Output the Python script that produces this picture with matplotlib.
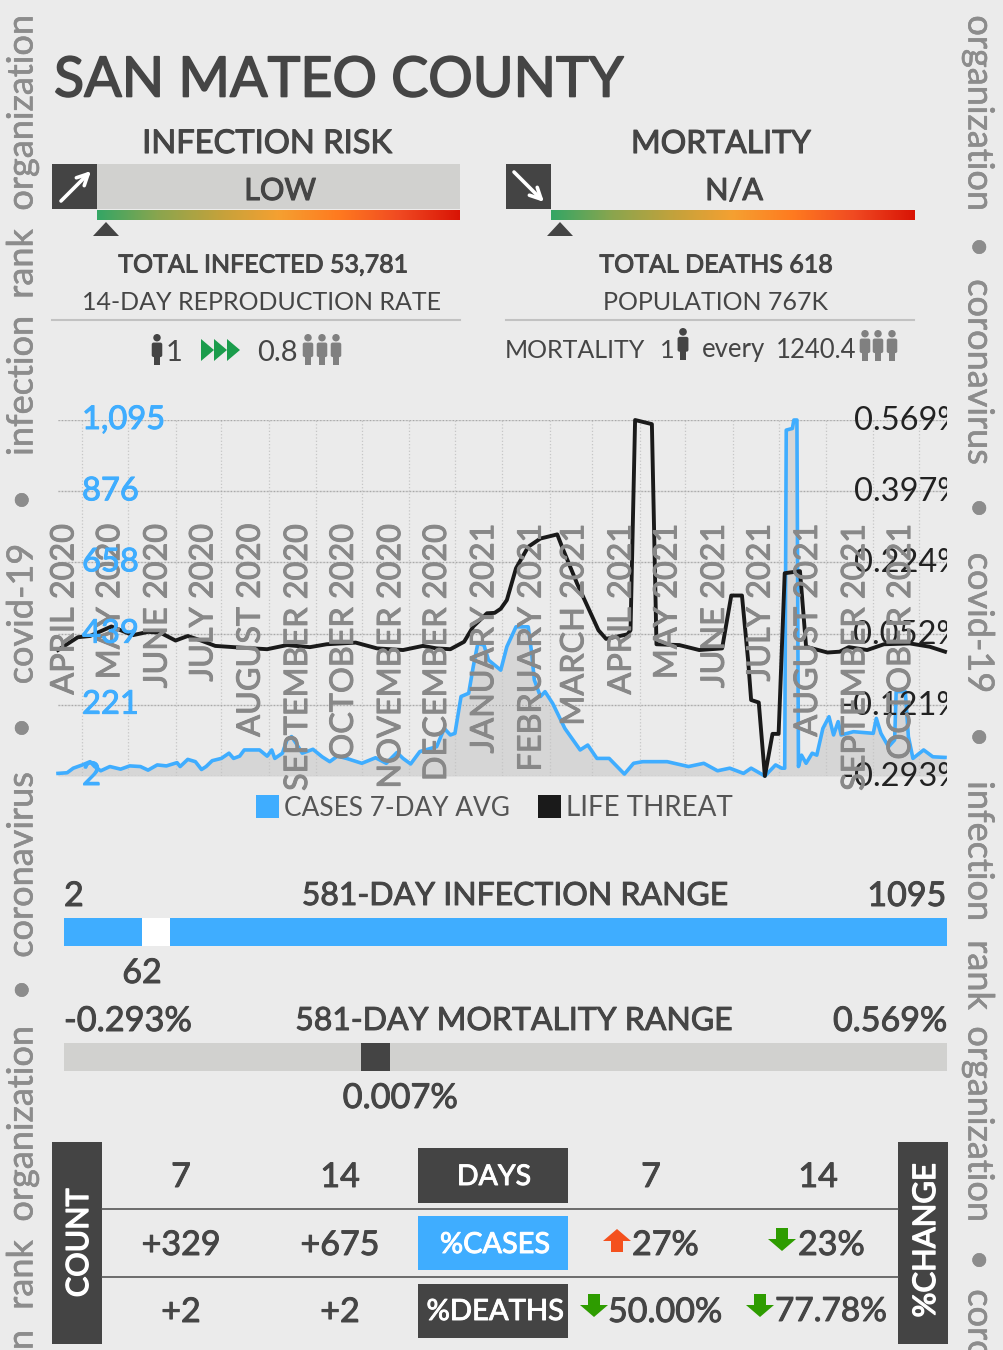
import matplotlib
matplotlib.use('Agg')
import matplotlib.pyplot as plt
import matplotlib.patheffects as pe
from matplotlib.colors import LinearSegmentedColormap
from matplotlib.patches import Circle, FancyBboxPatch, Polygon, Rectangle
from matplotlib.transforms import Affine2D, Bbox
import numpy as np

plt.rcParams['font.family'] = ['Lato', 'DejaVu Sans']

BG = '#ebebeb'
DARK = '#444444'
TEXT = '#454545'
BLUE = '#3fadff'
PANEL = '#d1d1cf'
SIDE = '#8c8c8c'

case_days = [0, 6, 10, 16, 21, 24, 28, 34, 41, 47, 54, 59, 65, 71, 78, 80, 85, 90, 94, 97,
             101, 107, 112, 115, 119, 122, 132, 137, 140, 142, 147, 150, 153, 156, 160, 167,
             173, 178, 183, 189, 199, 208, 215, 222, 226, 231, 237, 248, 253, 257, 260, 264,
             269, 272, 275, 279, 282, 290, 294, 300, 308, 310, 312, 316, 319, 324, 332, 342,
             347, 353, 361, 371, 377, 383, 399, 413, 423, 432, 440, 449, 454, 463, 470, 474,
             476, 477, 481, 482, 484, 485, 487, 490, 494, 497, 501, 505, 508, 511, 513, 521,
             534, 536, 539, 544, 548, 549, 555, 557, 560, 567, 573, 581]
case_values = [10, 12, 26, 36, 46, 31, 18, 31, 23, 33, 31, 20, 36, 33, 43, 31, 53, 46, 22, 31,
               49, 56, 72, 56, 63, 82, 82, 63, 82, 56, 72, 113, 123, 102, 72, 84,
               61, 46, 63, 56, 41, 58, 41, 74, 56, 39, 77, 92, 148, 128, 133, 246,
               256, 338, 409, 404, 358, 327, 399, 460, 460, 389, 297, 246, 261, 225, 148, 82,
               97, 56, 56, 8, 41, 46, 46, 31, 41, 18, 26, 10, 26, 2, 36, 26,
               26, 1064, 1069, 1095, 1095, 31, 66, 41, 72, 66, 148, 184, 128, 169, 128, 138,
               133, 179, 133, 92, 113, 261, 261, 123, 56, 82, 61, 59]

threat_days = [0, 13, 21, 35, 49, 59, 67, 77, 85, 93, 103, 119, 137, 150, 165, 176, 195, 209,
               226, 239, 248, 257, 266, 272, 281, 286, 290, 294, 300, 308, 316, 327, 331, 340,
               354, 359, 373, 375, 378, 389, 392, 407, 420, 435, 441, 448, 452, 454, 459, 463,
               468, 472, 476, 486, 490, 504, 512, 518, 530, 541, 558, 571, 581]
threat_values = [0.012, 0.043, 0.046, 0.069, 0.048, 0.056, 0.054, 0.035, 0.046, 0.036, 0.022,
                 0.018, 0.014, 0.024, 0.019, 0.026, 0.030, 0.016, 0.012, 0.022, 0.016, 0.014,
                 0.032, 0.069, 0.101, 0.102, 0.112, 0.133, 0.210, 0.262, 0.282, 0.292, 0.254,
                 0.173, 0.060, 0.039, 0.050, 0.060, 0.569, 0.559, 0.026, 0.024, 0.012, 0.016,
                 0.144, 0.144, -0.012, -0.109, -0.115, -0.293, -0.191, -0.191, 0.198, 0.203,
                 0.020, 0.006, 0.008, 0.019, 0.012, 0.026, 0.028, 0.020, 0.008]

month_days = [16, 46, 77, 107, 138, 169, 199, 230, 260, 291, 322, 350, 381, 411, 442, 472, 503, 534, 564]
month_labels = ['APRIL 2020', 'MAY 2020', 'JUNE 2020', 'JULY 2020', 'AUGUST 2020', 'SEPTEMBER 2020',
                'OCTOBER 2020', 'NOVEMBER 2020', 'DECEMBER 2020', 'JANUARY 2021', 'FEBRUARY 2021',
                'MARCH 2021', 'APRIL 2021', 'MAY 2021', 'JUNE 2021', 'JULY 2021', 'AUGUST 2021',
                'SEPTEMBER 2021', 'OCTOBER 2021']

case_ticks = [2, 221, 439, 658, 876, 1095]
case_tick_labels = ['2', '221', '439', '658', '876', '1,095']
threat_ticks = [-0.293, -0.121, 0.052, 0.224, 0.397, 0.569]
threat_tick_labels = ['-0.293%', '-0.121%', '0.052%', '0.224%', '0.397%', '0.569%']

left_words = ['organization', 'rank', 'infection', '•', 'covid-19', '•', 'coronavirus', '•',
              'organization', 'rank', 'n']
left_centers = [113, 264, 386, 500, 614, 728, 865, 990, 1124, 1275, 1340]
right_words = ['organization', '•', 'coronavirus', '•', 'covid-19', '•', 'infection', 'rank',
               'organization', '•', 'coro']
right_centers = [113, 247, 372, 508, 623, 737, 851, 975, 1124, 1260, 1325]

gradient_colors = ['#34a665', '#8aa54e', '#c2a23c', '#f5a031', '#ff7a1f', '#f04a22', '#d91405']


def put(ax, x, y, s, size, color=TEXT, ha='center', stroke=0.0, **kw):
    t = ax.text(x, y, s, fontsize=size, color=color, ha=ha, va='center', **kw)
    if stroke:
        t.set_path_effects([pe.withStroke(linewidth=stroke, foreground=color)])
    return t


def person(ax, x, top, height, color):
    # little pictogram: head, rounded torso, narrower legs
    w = height * 0.34
    head = height * 0.12
    ax.add_patch(Circle((x, top + head), head, color=color, lw=0))
    ax.add_patch(FancyBboxPatch((x - w / 2 + 2, top + 2.3 * head + 2), w - 4, height * 0.34,
                                boxstyle='round,pad=2', color=color, lw=0))
    ax.add_patch(Rectangle((x - w / 4, top + height * 0.55), w / 2, height * 0.45, color=color, lw=0))


def down_arrow(ax, x, y, color):
    ax.add_patch(Polygon([(x - 6, y - 12), (x + 6, y - 12), (x + 6, y - 1), (x + 14, y - 1),
                          (x, y + 11), (x - 14, y - 1), (x - 6, y - 1)], color=color, lw=0))


def up_arrow(ax, x, y, color):
    ax.add_patch(Polygon([(x - 6, y + 12), (x + 6, y + 12), (x + 6, y + 1), (x + 14, y + 1),
                          (x, y - 11), (x - 14, y + 1), (x - 6, y + 1)], color=color, lw=0))


fig = plt.figure(figsize=(10.04, 13.5), dpi=100, facecolor=BG)
base = fig.add_axes([0, 0, 1, 1])
base.set_axis_off()

cmap = LinearSegmentedColormap.from_list('risk', gradient_colors)
grad = np.linspace(0, 1, 256)[None, :]

put(base, 54, 81, 'SAN MATEO COUNTY', 40, ha='left', stroke=1.2)

# risk panels
put(base, 267, 144, 'INFECTION RISK', 23.5, stroke=0.8)
put(base, 721, 144, 'MORTALITY', 23, stroke=0.8)
base.add_patch(Rectangle((97, 164), 363, 45, color=PANEL, lw=0))
for x0 in (52, 506):
    base.add_patch(Rectangle((x0, 164), 45, 45, color=DARK, lw=0))
base.annotate('', xy=(91, 171), xytext=(61, 201), arrowprops=dict(arrowstyle='->', color='white', lw=2.6, mutation_scale=20, shrinkA=0, shrinkB=0))
base.annotate('', xy=(544, 202), xytext=(514, 172), arrowprops=dict(arrowstyle='->', color='white', lw=2.6, mutation_scale=20, shrinkA=0, shrinkB=0))
put(base, 280, 191, 'LOW', 22, stroke=0.8)
put(base, 734, 191, 'N/A', 22, stroke=0.8)
base.imshow(grad, cmap=cmap, extent=(97, 460, 220, 210), aspect='auto')
base.imshow(grad, cmap=cmap, extent=(551, 915, 220, 210), aspect='auto')
for cx in (106, 560):
    base.add_patch(Polygon([(cx - 13, 236), (cx + 13, 236), (cx, 222)], color=DARK, lw=0))

put(base, 263, 265, 'TOTAL INFECTED 53,781', 18, stroke=0.7)
put(base, 262, 303, '14-DAY REPRODUCTION RATE', 18)
put(base, 716, 265, 'TOTAL DEATHS 618', 18, stroke=0.7)
put(base, 716, 303, 'POPULATION 767K', 18)
base.plot([52, 460], [320, 320], color='#c2c2c2', lw=1.5)
base.plot([506, 914], [320, 320], color='#c2c2c2', lw=1.5)

# reproduction row
person(base, 157, 334, 31, DARK)
put(base, 174, 353, '1', 21)
for x0 in (201, 214, 227):
    base.add_patch(Polygon([(x0, 339), (x0 + 13, 350), (x0, 361)], color='#1a9c4b', lw=0))
put(base, 277, 353, '0.8', 21)
for cx in (308, 322, 336):
    person(base, cx, 334, 31, '#808080')

put(base, 505, 350, 'MORTALITY', 18, ha='left')
put(base, 667, 350, '1', 18.3)
person(base, 683, 328, 32, DARK)
put(base, 702, 350, 'every', 18.5, ha='left')
put(base, 776, 350, '1240.4', 18.5, ha='left')
for cx in (865, 878, 892):
    person(base, cx, 330, 31, '#808080')

# legend under the chart
base.add_patch(Rectangle((256, 795), 23, 23, color=BLUE, lw=0))
put(base, 284, 808, 'CASES 7-DAY AVG', 18.9, color='#555555', ha='left')
base.add_patch(Rectangle((538, 795), 23, 23, color='#1a1a1a', lw=0))
put(base, 566, 808, 'LIFE THREAT', 20, color='#555555', ha='left')

# range bars
put(base, 64, 896, '2', 24.5, ha='left', stroke=0.7)
put(base, 515, 896, '581-DAY INFECTION RANGE', 23, stroke=0.7)
put(base, 946, 896, '1095', 24.5, ha='right', stroke=0.7)
base.add_patch(Rectangle((64, 918), 883, 28, color=BLUE, lw=0))
base.add_patch(Rectangle((142, 918), 28, 28, color='white', lw=0))
put(base, 142, 973, '62', 24.5, stroke=0.7)
put(base, 64, 1021, '-0.293%', 24.7, ha='left', stroke=0.7)
put(base, 514, 1021, '581-DAY MORTALITY RANGE', 23, stroke=0.7)
put(base, 947, 1021, '0.569%', 24.5, ha='right', stroke=0.7)
base.add_patch(Rectangle((64, 1043), 883, 28, color=PANEL, lw=0))
base.add_patch(Rectangle((361, 1043), 29, 28, color=DARK, lw=0))
put(base, 400, 1098, '0.007%', 24.7, stroke=0.7)

# table
base.add_patch(Rectangle((52, 1142), 50, 202, color=DARK, lw=0))
base.add_patch(Rectangle((898, 1142), 50, 202, color=DARK, lw=0))
put(base, 79, 1243, 'COUNT', 22, color='white', rotation=90, stroke=1.0)
put(base, 926, 1240, '%CHANGE', 22.3, color='white', rotation=90, stroke=1.0)
base.plot([102, 898], [1209, 1209], color='#555555', lw=1.2)
base.plot([102, 898], [1277, 1277], color='#555555', lw=1.2)
base.add_patch(Rectangle((418, 1148), 150, 55, color=DARK, lw=0))
base.add_patch(Rectangle((418, 1216), 150, 54, color=BLUE, lw=0))
base.add_patch(Rectangle((418, 1284), 150, 54, color=DARK, lw=0))
put(base, 494, 1177, 'DAYS', 20.5, color='white', stroke=0.7)
put(base, 495, 1245, '%CASES', 20.8, color='white', stroke=0.7)
put(base, 495, 1312, '%DEATHS', 21, color='white', stroke=0.7)
put(base, 181, 1177, '7', 24.5, stroke=0.7)
put(base, 340, 1177, '14', 24.5, stroke=0.7)
put(base, 651, 1177, '7', 24.5, stroke=0.7)
put(base, 818, 1177, '14', 24.5, stroke=0.7)
put(base, 181, 1245, '+329', 24.5, stroke=0.7)
put(base, 340, 1245, '+675', 24.5, stroke=0.7)
put(base, 181, 1312, '+2', 24.5, stroke=0.7)
put(base, 340, 1312, '+2', 24.5, stroke=0.7)
put(base, 632, 1245, '27%', 24.5, ha='left', stroke=0.7)
put(base, 798, 1245, '23%', 24.5, ha='left', stroke=0.7)
put(base, 608, 1312, '50.00%', 24.5, ha='left', stroke=0.7)
put(base, 775, 1312, '77.78%', 24, ha='left', stroke=0.7)
up_arrow(base, 617, 1240, '#f4511e')
down_arrow(base, 782, 1240, '#2e9c00')
down_arrow(base, 594, 1306, '#2e9c00')
down_arrow(base, 760, 1306, '#2e9c00')

# side watermarks
for word, cy in zip(left_words, left_centers):
    put(base, 22, cy, word, 26, color=SIDE, rotation=90, stroke=0.4)
for word, cy in zip(right_words, right_centers):
    put(base, 979, cy, word, 26, color=SIDE, rotation=270, stroke=0.4)

base.set_xlim(0, 1004)
base.set_ylim(1350, 0)

# chart: cases on ax, life threat on the twin
ax = fig.add_axes([58 / 1004, (1350 - 776) / 1350, (947 - 58) / 1004, 356 / 1350])
ax.patch.set_alpha(0)
ax.fill_between(case_days, case_values, 2, color='#d6d6d6', lw=0, zorder=1)
ax.plot(case_days, case_values, color=BLUE, lw=2.6, zorder=2, clip_on=False)
ax.set_xlim(0, 582.3)
ax.set_ylim(2, 1095)
ax.set_xticks(month_days)
ax.set_yticks(case_ticks)
ax.tick_params(length=0, labelbottom=False, labelleft=False)
ax.grid(axis='y', color='#a8a8a8', lw=0.9, ls=':')
ax.grid(axis='x', color='#c6c6c6', lw=0.9, ls=':')
ax.hlines(case_ticks, 0, 581, color='#d4d4d4', lw=1.0, zorder=0.5)
for side in ax.spines.values():
    side.set_visible(False)

ax2 = ax.twinx()
ax2.plot(threat_days, threat_values, color='#1a1a1a', lw=2.8, clip_on=False)
ax2.set_ylim(-0.293, 0.569)
ax2.set_axisbelow(False)
ax2.set_yticks(threat_ticks)
ax2.set_yticklabels(threat_tick_labels, fontsize=23.5, color='#222222')
ax2.tick_params(axis='y', length=0, pad=11.5)
for label in ax2.get_yticklabels():
    label.set_ha('right')
    label.set_clip_on(True)
    label.set_clip_box(Bbox([[0, 0], [947, 1350]]))
    label.set_transform(label.get_transform() + Affine2D().translate(0, 2))
for side in ax2.spines.values():
    side.set_visible(False)
for day, name in zip(month_days, month_labels):
    t = ax2.annotate(name, (day, 0.708), xycoords=('data', 'axes fraction'), xytext=(-18, 0),
                     textcoords='offset pixels', rotation=90, ha='center', va='top',
                     fontsize=23.3, color='#888888', zorder=5)
    t.set_path_effects([pe.withStroke(linewidth=0.7, foreground='#888888')])

ax3 = ax.twinx()
ax3.set_ylim(2, 1095)
ax3.set_yticks(case_ticks)
ax3.set_yticklabels(case_tick_labels, fontsize=23.5, color=BLUE)
ax3.yaxis.tick_left()
ax3.tick_params(axis='y', length=0, pad=-17.3)
for label in ax3.get_yticklabels():
    label.set_ha('left')
    label.set_transform(label.get_transform() + Affine2D().translate(0, 3))
    label.set_path_effects([pe.withStroke(linewidth=0.7, foreground=BLUE)])
for side in ax3.spines.values():
    side.set_visible(False)

fig.savefig('out.png', dpi=100, facecolor=BG)
